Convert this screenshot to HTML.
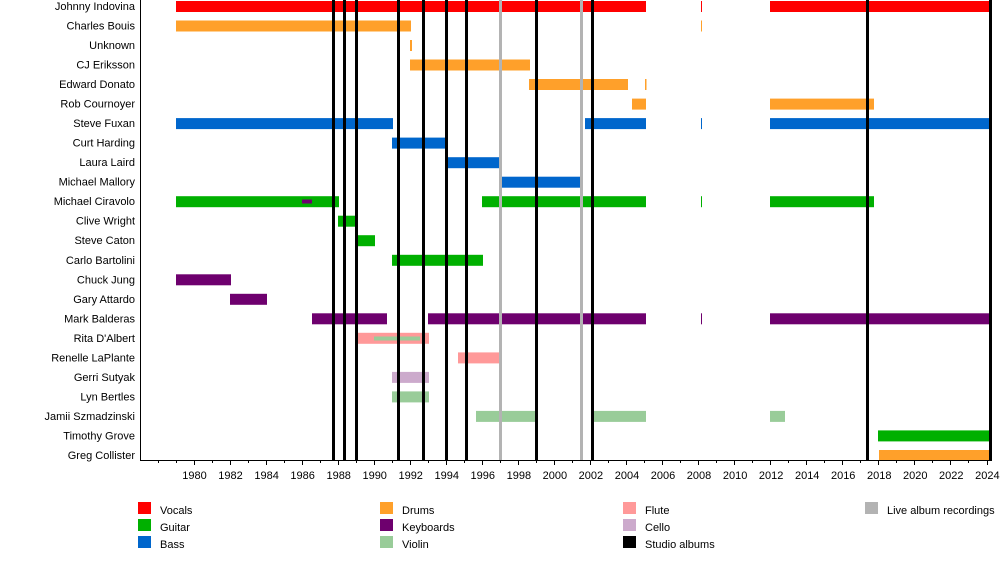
<!DOCTYPE html><html><head><style>body{margin:0;background:#fff}svg{font-family:"Liberation Sans",sans-serif}</style></head><body>
<svg width="1000" height="560" xmlns="http://www.w3.org/2000/svg">
<g font-size="11" text-anchor="end" fill="#000">
<text x="135" y="10">Johnny Indovina</text><text x="135" y="29.5">Charles Bouis</text><text x="135" y="49">Unknown</text><text x="135" y="68.5">CJ Eriksson</text><text x="135" y="88">Edward Donato</text><text x="135" y="107.6">Rob Cournoyer</text><text x="135" y="127.1">Steve Fuxan</text><text x="135" y="146.6">Curt Harding</text><text x="135" y="166.2">Laura Laird</text><text x="135" y="185.7">Michael Mallory</text><text x="135" y="205.2">Michael Ciravolo</text><text x="135" y="224.7">Clive Wright</text><text x="135" y="244.2">Steve Caton</text><text x="135" y="263.8">Carlo Bartolini</text><text x="135" y="283.3">Chuck Jung</text><text x="135" y="302.8">Gary Attardo</text><text x="135" y="322.3">Mark Balderas</text><text x="135" y="341.8">Rita D'Albert</text><text x="135" y="361.4">Renelle LaPlante</text><text x="135" y="380.9">Gerri Sutyak</text><text x="135" y="400.4">Lyn Bertles</text><text x="135" y="419.9">Jamii Szmadzinski</text><text x="135" y="439.4">Timothy Grove</text><text x="135" y="459">Greg Collister</text>
</g>
<g>
<rect x="176" y="1" width="470" height="11" fill="#f00"/><rect x="701" y="1" width="1" height="11" fill="#f00"/><rect x="770" y="1" width="220" height="11" fill="#f00"/>
<rect x="176" y="20.5" width="235" height="11" fill="#ffa02a"/><rect x="701" y="20.5" width="1" height="11" fill="#ffa02a"/>
<rect x="410" y="40" width="2" height="11" fill="#ffa02a"/>
<rect x="410" y="59.5" width="120" height="11" fill="#ffa02a"/>
<rect x="529" y="79" width="99" height="11" fill="#ffa02a"/><rect x="645" y="79" width="1.5" height="11" fill="#ffa02a"/>
<rect x="632" y="98.6" width="14" height="11" fill="#ffa02a"/><rect x="770" y="98.6" width="104" height="11" fill="#ffa02a"/>
<rect x="176" y="118.1" width="217" height="11" fill="#0066cc"/><rect x="585" y="118.1" width="61" height="11" fill="#0066cc"/><rect x="701" y="118.1" width="1" height="11" fill="#0066cc"/><rect x="770" y="118.1" width="220" height="11" fill="#0066cc"/>
<rect x="392" y="137.6" width="54" height="11" fill="#0066cc"/>
<rect x="446" y="157.2" width="55" height="11" fill="#0066cc"/>
<rect x="500" y="176.7" width="81" height="11" fill="#0066cc"/>
<rect x="176" y="196.2" width="163" height="11" fill="#00b000"/><rect x="302" y="199.5" width="10" height="4" fill="#6e006e"/><rect x="482" y="196.2" width="164" height="11" fill="#00b000"/><rect x="701" y="196.2" width="1" height="11" fill="#00b000"/><rect x="770" y="196.2" width="104" height="11" fill="#00b000"/>
<rect x="338" y="215.7" width="18" height="11" fill="#00b000"/>
<rect x="356" y="235.2" width="19" height="11" fill="#00b000"/>
<rect x="392" y="254.8" width="91" height="11" fill="#00b000"/>
<rect x="176" y="274.3" width="55" height="11" fill="#6e006e"/>
<rect x="230" y="293.8" width="37" height="11" fill="#6e006e"/>
<rect x="312" y="313.3" width="75" height="11" fill="#6e006e"/><rect x="428" y="313.3" width="218" height="11" fill="#6e006e"/><rect x="701" y="313.3" width="1" height="11" fill="#6e006e"/><rect x="770" y="313.3" width="220" height="11" fill="#6e006e"/>
<rect x="356" y="332.8" width="73" height="11" fill="#ff9999"/><rect x="374" y="336.5" width="46" height="4" fill="#99cc99"/>
<rect x="458" y="352.4" width="43" height="11" fill="#ff9999"/>
<rect x="392" y="371.9" width="37" height="11" fill="#ccaacc"/>
<rect x="392" y="391.4" width="37" height="11" fill="#99cc99"/>
<rect x="476" y="410.9" width="60" height="11" fill="#99cc99"/><rect x="592" y="410.9" width="54" height="11" fill="#99cc99"/><rect x="770" y="410.9" width="15" height="11" fill="#99cc99"/>
<rect x="878" y="430.4" width="112" height="11" fill="#00b000"/>
<rect x="879" y="450" width="111" height="11" fill="#ffa02a"/>
</g>
<g fill="#b3b3b3"><rect x="499" y="0" width="3" height="460"/><rect x="580" y="0" width="3" height="460"/></g>
<g fill="#000">
<rect x="332" y="0" width="3" height="460"/><rect x="343" y="0" width="3" height="460"/><rect x="355" y="0" width="3" height="460"/><rect x="397" y="0" width="3" height="460"/><rect x="422" y="0" width="3" height="460"/><rect x="445" y="0" width="3" height="460"/><rect x="465" y="0" width="3" height="460"/><rect x="535" y="0" width="3" height="460"/><rect x="591" y="0" width="3" height="460"/><rect x="866" y="0" width="3" height="460"/><rect x="989" y="0" width="3" height="460"/>
<rect x="140" y="0" width="1" height="461"/><rect x="140" y="460" width="852" height="1"/>
</g>
<path stroke="#000" stroke-width="1" fill="none" d="M158.5 461v2M176.5 461v2M194.5 461v4M212.5 461v2M230.5 461v4M248.5 461v2M266.5 461v4M284.5 461v2M302.5 461v4M320.5 461v2M338.5 461v4M356.5 461v2M374.5 461v4M392.5 461v2M410.5 461v4M428.5 461v2M446.5 461v4M464.5 461v2M482.5 461v4M500.5 461v2M518.5 461v4M536.5 461v2M554.5 461v4M572.5 461v2M590.5 461v4M608.5 461v2M626.5 461v4M644.5 461v2M662.5 461v4M680.5 461v2M698.5 461v4M716.5 461v2M734.5 461v4M752.5 461v2M770.5 461v4M788.5 461v2M806.5 461v4M824.5 461v2M842.5 461v4M860.5 461v2M878.5 461v4M896.5 461v2M914.5 461v4M932.5 461v2M950.5 461v4M968.5 461v2M987.5 461v4"/>
<g font-size="11" text-anchor="middle">
<text x="194.5" y="479">1980</text><text x="230.5" y="479">1982</text><text x="266.6" y="479">1984</text><text x="302.6" y="479">1986</text><text x="338.7" y="479">1988</text><text x="374.7" y="479">1990</text><text x="410.7" y="479">1992</text><text x="446.8" y="479">1994</text><text x="482.8" y="479">1996</text><text x="518.9" y="479">1998</text><text x="554.9" y="479">2000</text><text x="590.9" y="479">2002</text><text x="627" y="479">2004</text><text x="663" y="479">2006</text><text x="699" y="479">2008</text><text x="735.1" y="479">2010</text><text x="771.1" y="479">2012</text><text x="807.2" y="479">2014</text><text x="843.2" y="479">2016</text><text x="879.3" y="479">2018</text><text x="915.3" y="479">2020</text><text x="951.3" y="479">2022</text><text x="987.4" y="479">2024</text>
</g>
<g font-size="11">
<rect x="138" y="502" width="13" height="12" fill="#f00"/><text x="160" y="514">Vocals</text>
<rect x="138" y="519" width="13" height="12" fill="#00b000"/><text x="160" y="531">Guitar</text>
<rect x="138" y="536" width="13" height="12" fill="#0066cc"/><text x="160" y="548">Bass</text>
<rect x="380" y="502" width="13" height="12" fill="#ffa02a"/><text x="402" y="514">Drums</text>
<rect x="380" y="519" width="13" height="12" fill="#6e006e"/><text x="402" y="531">Keyboards</text>
<rect x="380" y="536" width="13" height="12" fill="#99cc99"/><text x="402" y="548">Violin</text>
<rect x="623" y="502" width="13" height="12" fill="#ff9999"/><text x="645" y="514">Flute</text>
<rect x="623" y="519" width="13" height="12" fill="#ccaacc"/><text x="645" y="531">Cello</text>
<rect x="623" y="536" width="13" height="12" fill="#000"/><text x="645" y="548">Studio albums</text>
<rect x="865" y="502" width="13" height="12" fill="#b3b3b3"/><text x="887" y="514">Live album recordings</text>
</g>
</svg></body></html>
